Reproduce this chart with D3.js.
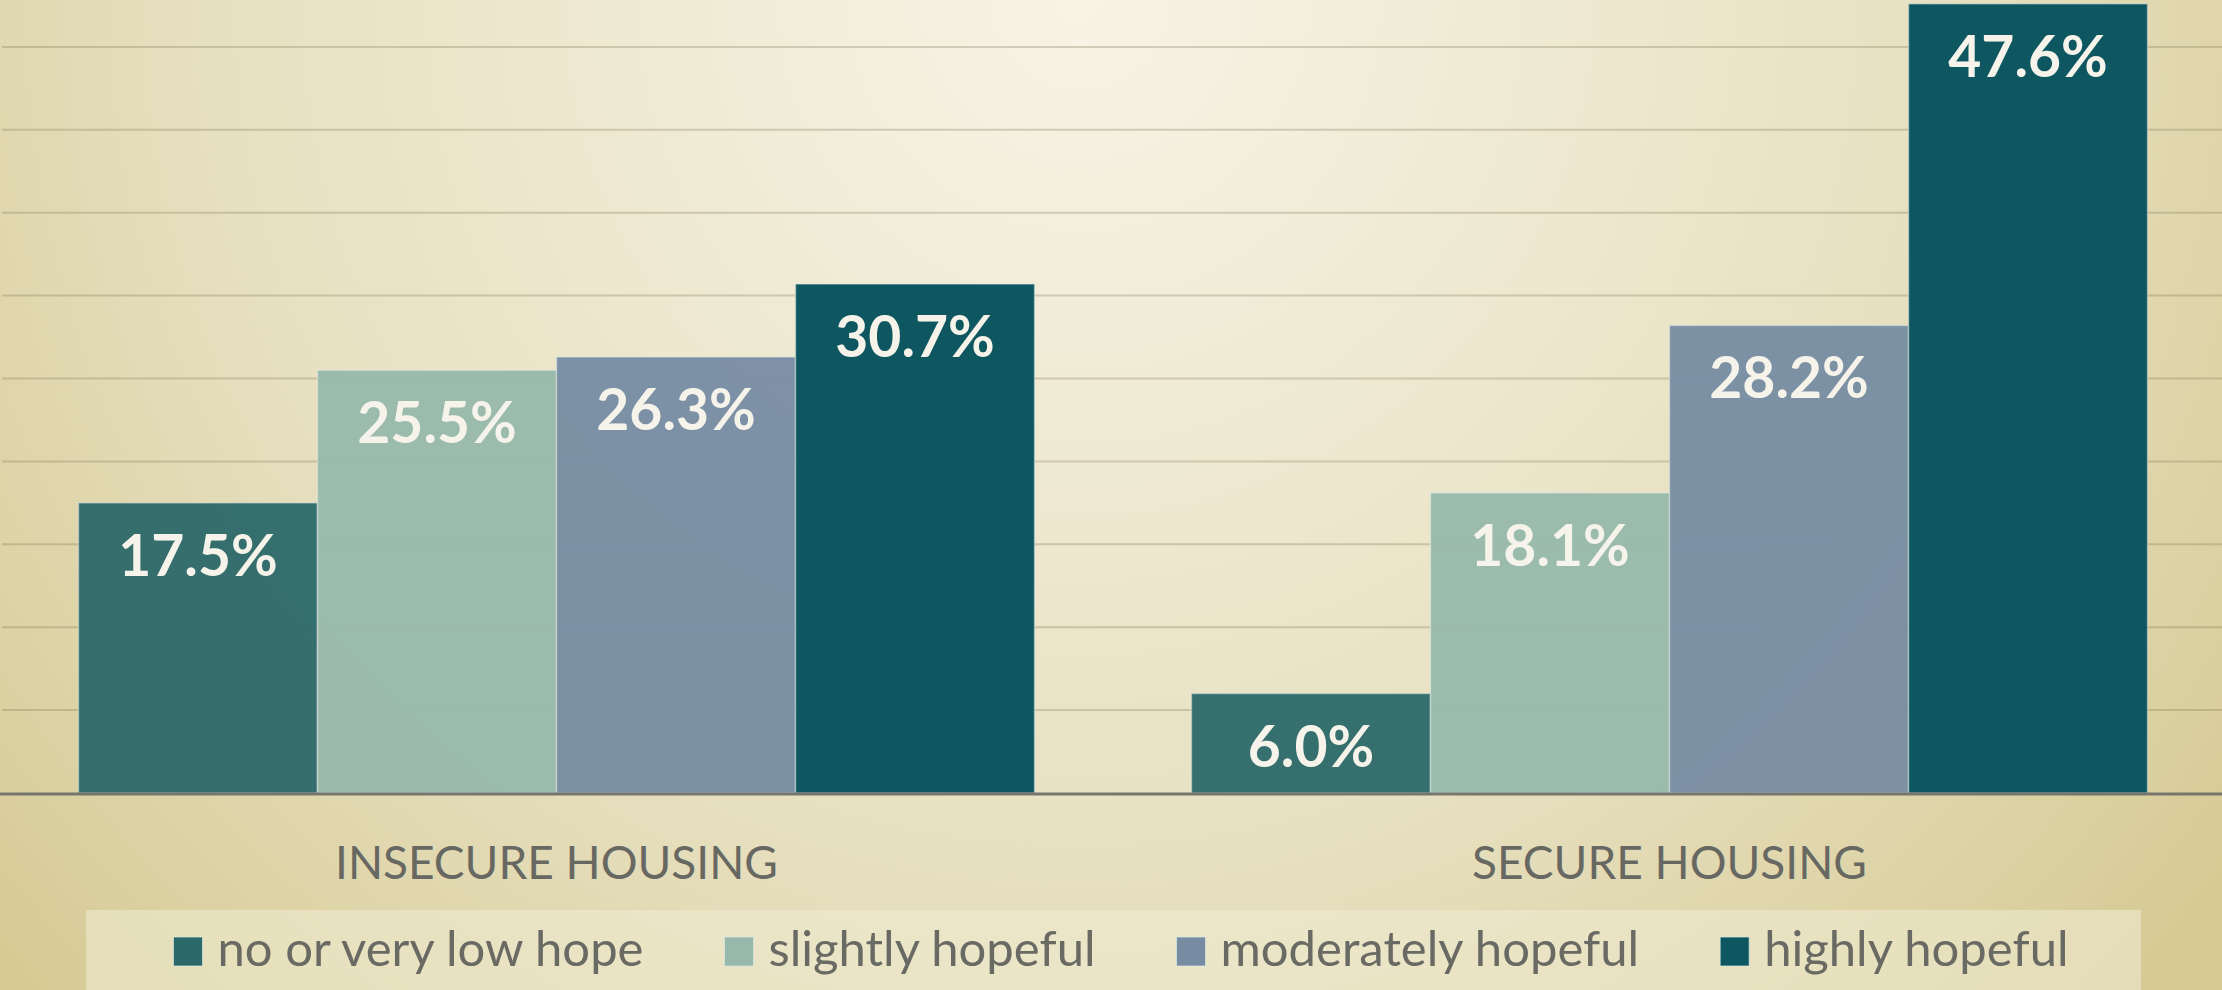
<!DOCTYPE html>
<html>
<head>
    <script type="text/javascript" src="https://d3js.org/d3.v7.min.js"></script>
    <style>
        html, body { margin: 0; padding: 0; overflow: hidden; }
        svg { display: block; }
    </style>
</head>
<body>
    <svg></svg>
    <script>
        // chart values
        const categories = ["INSECURE HOUSING", "SECURE HOUSING"];
        const seriesNames = ["no or very low hope", "slightly hopeful", "moderately hopeful", "highly hopeful"];
        const insecureValues = [17.5, 25.5, 26.3, 30.7];
        const secureValues = [6.0, 18.1, 28.2, 47.6];
        const yTicks = [5, 10, 15, 20, 25, 30, 35, 40, 45, 50];

        const colors = ["#2b6869", "#97b8ab", "#778ca3", "#0e5761"];
        const W = 2222, H = 990;

        const svg = d3.select("svg").attr("width", W).attr("height", H);

        // background: light glow at top centre, darker olive corners
        const defs = svg.append("defs");
        const grad = defs.append("radialGradient")
            .attr("id", "bg")
            .attr("gradientUnits", "userSpaceOnUse")
            .attr("cx", 1080).attr("cy", 0).attr("r", 1450);
        grad.append("stop").attr("offset", "0%").attr("stop-color", "#f7f4e6");
        grad.append("stop").attr("offset", "60%").attr("stop-color", "#e7e0c0");
        grad.append("stop").attr("offset", "100%").attr("stop-color", "#d6ca94");
        svg.append("rect").attr("width", W).attr("height", H).attr("fill", "url(#bg)");

        const table = categories.map((c, i) => ({
            category: c,
            values: [insecureValues, secureValues][i]
        }));

        const x0 = d3.scaleBand().domain(categories).range([0, 2226]).paddingInner(0.141).paddingOuter(0.0705);
        const x1 = d3.scaleBand().domain(seriesNames).range([0, x0.bandwidth()]);
        const y = d3.scaleLinear().domain([0, 50]).range([793, -36]);

        // gridlines
        svg.append("g").selectAll("line")
            .data(yTicks)
            .enter()
            .append("line")
            .attr("x1", 2).attr("x2", W)
            .attr("y1", d => y(d)).attr("y2", d => y(d))
            .attr("stroke", "rgba(120,112,80,0.28)")
            .attr("stroke-width", 2);

        // bars
        const groups = svg.append("g").selectAll("g")
            .data(table)
            .enter()
            .append("g")
            .attr("transform", d => `translate(${x0(d.category)},0)`);

        groups.selectAll("rect")
            .data(d => d.values.map((v, i) => ({ name: seriesNames[i], value: v, i: i })))
            .enter()
            .append("rect")
            .attr("x", d => x1(d.name))
            .attr("y", d => y(d.value))
            .attr("width", x1.bandwidth())
            .attr("height", d => y(0) - y(d.value))
            .attr("fill", d => colors[d.i])
            .attr("fill-opacity", d => d.i === 3 ? 1 : 0.95)
            .attr("stroke", "rgba(230,240,235,0.45)")
            .attr("stroke-width", 1.5);

        groups.selectAll("text")
            .data(d => d.values.map((v, i) => ({ name: seriesNames[i], value: v })))
            .enter()
            .append("text")
            .attr("x", d => x1(d.name) + x1.bandwidth() / 2)
            .attr("y", d => y(d.value) + 73)
            .attr("text-anchor", "middle")
            .attr("font-family", "Lato, 'Open Sans', sans-serif")
            .attr("font-weight", "bold")
            .attr("font-size", 57)
            .attr("fill", "#f6f3ea")
            .text(d => d.value.toFixed(1) + "%");

        // axis baseline
        svg.append("line")
            .attr("x1", 0).attr("x2", W)
            .attr("y1", y(0) + 1).attr("y2", y(0) + 1)
            .attr("stroke", "#77766e")
            .attr("stroke-width", 3);

        // category labels
        svg.append("g").selectAll("text")
            .data(categories)
            .enter()
            .append("text")
            .attr("x", d => x0(d) + x0.bandwidth() / 2)
            .attr("y", 879)
            .attr("text-anchor", "middle")
            .attr("font-family", "Lato, 'Open Sans', sans-serif")
            .attr("font-size", 46)
            .attr("fill", "#686863")
            .text(d => d);

        // legend
        const legend = svg.append("g");
        legend.append("rect")
            .attr("x", 86).attr("y", 910)
            .attr("width", 2055).attr("height", 90)
            .attr("fill", "rgba(240,237,212,0.55)");

        const items = legend.selectAll("g.item")
            .data(seriesNames)
            .enter()
            .append("g")
            .attr("class", "item");

        items.append("rect")
            .attr("width", 29).attr("height", 29)
            .attr("y", 937)
            .attr("fill", (d, i) => colors[i])
            .attr("stroke", "rgba(220,235,230,0.7)")
            .attr("stroke-width", 1);

        const labels = items.append("text")
            .attr("x", 44)
            .attr("y", 966)
            .attr("font-family", "Lato, 'Open Sans', sans-serif")
            .attr("font-size", 49)
            .attr("fill", "#6a6a64")
            .text(d => d);

        // lay the items out in a row, centred in the box
        const widths = [];
        labels.each(function() { widths.push(this.getComputedTextLength()); });
        const gap = 81;
        const total = d3.sum(widths) + widths.length * 44 + (widths.length - 1) * gap;
        let cx = 1121 - total / 2;
        items.each(function(d, i) {
            d3.select(this).attr("transform", `translate(${cx},0)`);
            cx += 44 + widths[i] + gap;
        });
    </script>
</body>
</html>
